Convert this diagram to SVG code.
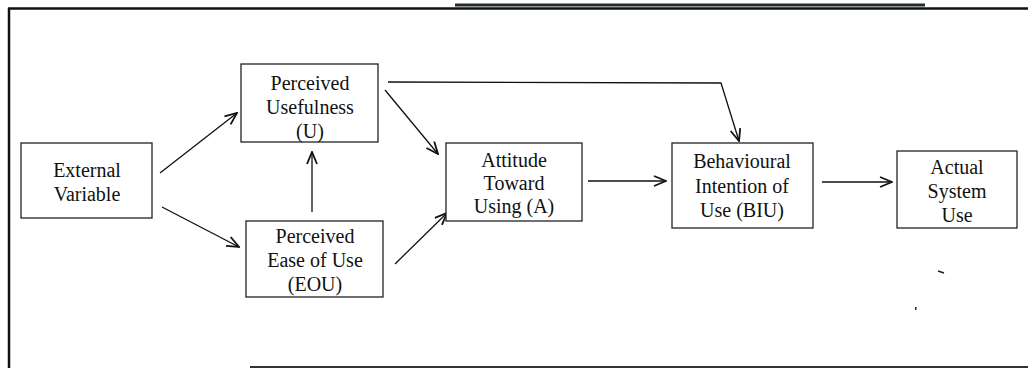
<svg xmlns="http://www.w3.org/2000/svg" width="1028" height="368" viewBox="0 0 1028 368">
<style>
.box{fill:#fff;stroke:#222;stroke-width:1.3}
.t{font-family:"Liberation Serif","Times New Roman",serif;font-size:20px;fill:#111;text-anchor:middle}
.c{fill:none;stroke:#111;stroke-width:1.3}
.frame{fill:none;stroke:#111;stroke-width:2.5}
</style>
<defs>
<marker id="ah" viewBox="0 0 14 12" refX="13" refY="6" markerWidth="14" markerHeight="12" markerUnits="userSpaceOnUse" orient="auto">
<path d="M1,1 L13,6 L1,11" fill="none" stroke="#111" stroke-width="1.8"/>
</marker>
</defs>
<rect width="1028" height="368" fill="#fff"/>
<g id="frame">
<line class="frame" x1="8" y1="8.5" x2="1028" y2="8.5"/>
<line x1="455" y1="5" x2="925" y2="5" stroke="#1f2f30" stroke-width="3"/>
<line class="frame" x1="9" y1="8" x2="9" y2="368"/>
<line x1="250" y1="367" x2="1028" y2="367" stroke="#333" stroke-width="2"/>
<path d="M938,271 L944,273" stroke="#222" stroke-width="1.5" fill="none"/>
<rect x="915" y="307" width="1.5" height="3" fill="#222"/>
</g>
<g id="connectors">
<line class="c" x1="160" y1="173" x2="237" y2="113" marker-end="url(#ah)"/>
<line class="c" x1="162" y1="207" x2="239" y2="247" marker-end="url(#ah)"/>
<line class="c" x1="312" y1="212" x2="312" y2="152" marker-end="url(#ah)"/>
<line class="c" x1="385" y1="90" x2="438" y2="154" marker-end="url(#ah)"/>
<line class="c" x1="395" y1="264" x2="447" y2="213" marker-end="url(#ah)"/>
<polyline class="c" points="388,82 721,83 739,141" marker-end="url(#ah)"/>
<line class="c" x1="588" y1="181" x2="666" y2="181" marker-end="url(#ah)"/>
<line class="c" x1="822" y1="182" x2="892" y2="182" marker-end="url(#ah)"/>
</g>
<g id="external-variable">
<rect class="box" x="21" y="143" width="131" height="75"/>
<text class="t" x="87" y="177">External</text>
<text class="t" x="87" y="201">Variable</text>
</g>
<g id="perceived-usefulness">
<rect class="box" x="241" y="64" width="137" height="78"/>
<text class="t" x="310" y="90">Perceived</text>
<text class="t" x="310" y="114">Usefulness</text>
<text class="t" x="310" y="138">(U)</text>
</g>
<g id="perceived-ease-of-use">
<rect class="box" x="246" y="221" width="137" height="76"/>
<text class="t" x="315" y="243">Perceived</text>
<text class="t" x="315" y="267">Ease of Use</text>
<text class="t" x="315" y="291">(EOU)</text>
</g>
<g id="attitude">
<rect class="box" x="446" y="143" width="136" height="78"/>
<text class="t" x="514" y="167">Attitude</text>
<text class="t" x="514" y="190">Toward</text>
<text class="t" x="514" y="213">Using (A)</text>
</g>
<g id="behavioural-intention">
<rect class="box" x="672" y="143" width="141" height="85"/>
<text class="t" x="742" y="168">Behavioural</text>
<text class="t" x="742" y="193">Intention of</text>
<text class="t" x="742" y="217">Use (BIU)</text>
</g>
<g id="actual-system-use">
<rect class="box" x="897" y="151" width="120" height="77"/>
<text class="t" x="957" y="174">Actual</text>
<text class="t" x="957" y="198">System</text>
<text class="t" x="957" y="222">Use</text>
</g>
</svg>
